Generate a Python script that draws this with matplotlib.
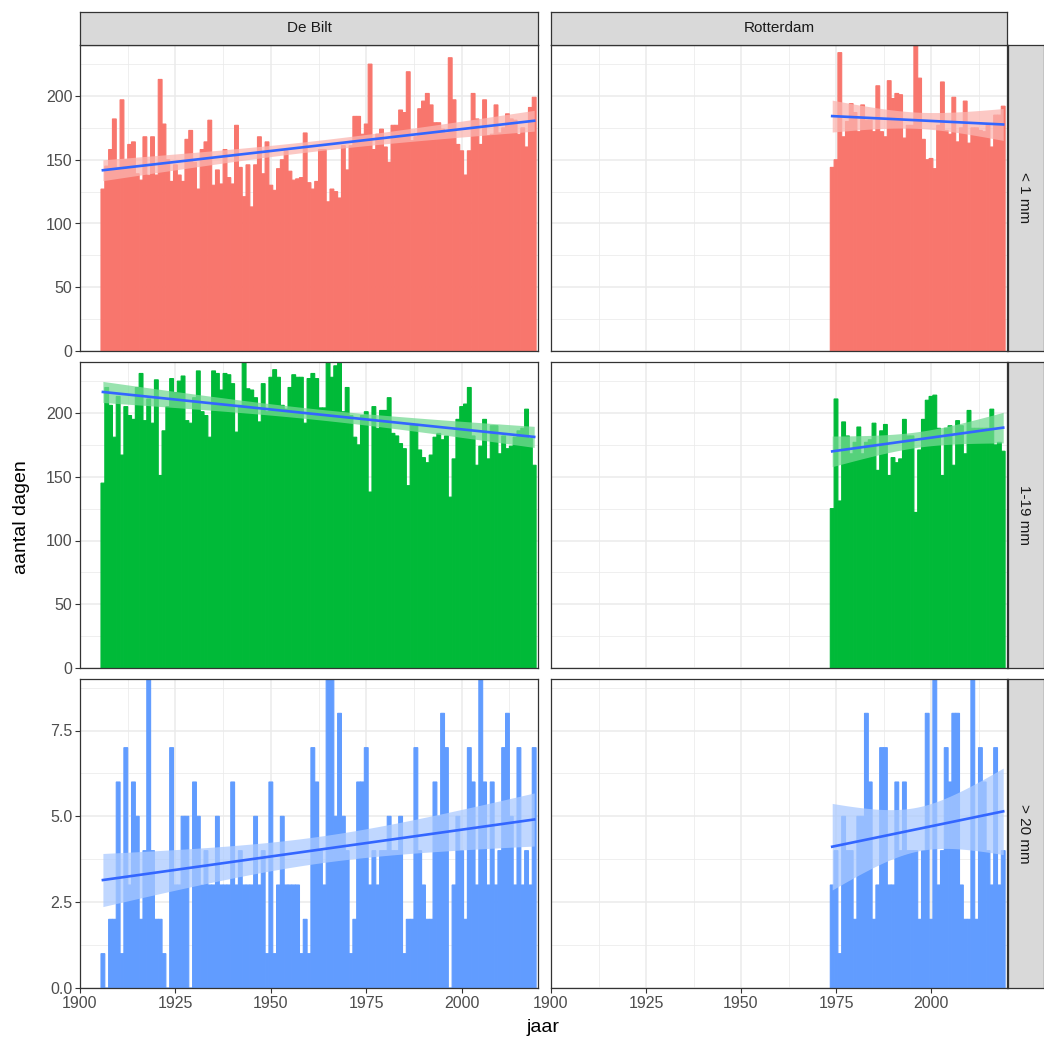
import numpy as np
import matplotlib.pyplot as plt
from matplotlib.ticker import MultipleLocator

plt.rcParams['font.family'] = ['Liberation Sans', 'DejaVu Sans']

# data: aantal dagen per jaar, per neerslagklasse
jaren_bilt = np.arange(1906, 2020)
jaren_rdam = np.arange(1974, 2020)

stations = ['De Bilt', 'Rotterdam']
klassen = ['< 1 mm', '1-19 mm', '> 20 mm']

bilt_lt1 = [127, 145, 158, 182, 144, 197, 150, 162, 164, 139,
            134, 168, 138, 168, 138, 213, 178, 150, 133, 146,
            138, 133, 166, 173, 148, 127, 158, 164, 181, 130,
            142, 131, 158, 136, 131, 177, 144, 121, 146, 113,
            146, 168, 139, 164, 130, 126, 143, 150, 157, 141,
            134, 135, 136, 171, 132, 127, 133, 158, 158, 117,
            127, 125, 120, 161, 142, 161, 184, 184, 170, 178,
            225, 158, 170, 174, 160, 148, 177, 177, 189, 187,
            219, 165, 168, 190, 196, 202, 193, 179, 179, 174,
            171, 230, 197, 162, 157, 138, 157, 202, 182, 162,
            197, 169, 170, 193, 171, 175, 186, 182, 181, 170,
            175, 160, 191, 199]
bilt_1_19 = [145, 220, 206, 181, 213, 167, 205, 198, 195, 220,
             231, 194, 211, 192, 226, 151, 186, 205, 227, 216,
             225, 229, 194, 192, 212, 233, 201, 198, 181, 233,
             231, 218, 231, 230, 223, 185, 206, 240, 219, 218,
             212, 193, 223, 201, 228, 234, 228, 206, 203, 220,
             230, 228, 228, 192, 227, 231, 227, 204, 204, 239,
             228, 237, 239, 201, 220, 198, 181, 175, 198, 201,
             138, 205, 188, 202, 202, 212, 184, 182, 176, 172,
             143, 191, 191, 171, 165, 161, 167, 181, 184, 179,
             182, 134, 164, 195, 205, 207, 220, 182, 159, 174,
             195, 164, 190, 190, 168, 182, 172, 174, 181, 186,
             188, 203, 180, 159]
bilt_gt20 = [1, 0, 2, 2, 6, 1, 7, 3, 6, 5,
             2, 4, 9, 4, 2, 2, 1, 0, 7, 3,
             3, 5, 5, 0, 6, 5, 3, 4, 3, 3,
             5, 3, 3, 3, 6, 3, 4, 3, 3, 3,
             5, 3, 4, 1, 6, 1, 3, 5, 3, 3,
             3, 3, 1, 2, 1, 7, 6, 4, 3, 9,
             9, 5, 8, 5, 4, 1, 2, 6, 6, 7,
             3, 4, 3, 4, 4, 5, 4, 4, 5, 1,
             2, 2, 7, 4, 3, 2, 2, 6, 5, 8,
             7, 0, 3, 5, 4, 2, 7, 6, 3, 9,
             6, 3, 6, 3, 4, 7, 8, 5, 3, 7,
             3, 4, 3, 7]

rdam_lt1 = [144, 150, 234, 168, 180, 194, 187, 172, 193, 181,
            181, 172, 208, 172, 168, 212, 198, 202, 201, 167,
            177, 177, 240, 214, 166, 150, 151, 143, 177, 211,
            173, 170, 199, 164, 175, 196, 163, 175, 175, 173,
            172, 177, 160, 185, 185, 192]
rdam_1_19 = [125, 211, 131, 193, 182, 168, 177, 189, 168, 177,
             179, 192, 155, 186, 191, 151, 165, 161, 164, 195,
             182, 182, 122, 171, 195, 210, 213, 214, 188, 151,
             188, 190, 159, 194, 190, 168, 202, 188, 188, 188,
             188, 188, 203, 175, 177, 170]
rdam_gt20 = [3, 4, 1, 5, 4, 4, 2, 5, 5, 8,
             6, 2, 3, 7, 7, 3, 3, 6, 4, 6,
             4, 4, 4, 2, 4, 8, 2, 9, 3, 4,
             7, 6, 8, 8, 3, 2, 2, 9, 2, 7,
             6, 4, 3, 7, 3, 4]

data = {
    ('De Bilt', '< 1 mm'): (jaren_bilt, bilt_lt1),
    ('De Bilt', '1-19 mm'): (jaren_bilt, bilt_1_19),
    ('De Bilt', '> 20 mm'): (jaren_bilt, bilt_gt20),
    ('Rotterdam', '< 1 mm'): (jaren_rdam, rdam_lt1),
    ('Rotterdam', '1-19 mm'): (jaren_rdam, rdam_1_19),
    ('Rotterdam', '> 20 mm'): (jaren_rdam, rdam_gt20),
}

kleuren = {'< 1 mm': '#F8766D', '1-19 mm': '#00BA38', '> 20 mm': '#619CFF'}
y_major = {'< 1 mm': 50, '1-19 mm': 50, '> 20 mm': 2.5}


def t975(df):
    # benadering van de t-quantiel (Cornish-Fisher)
    z = 1.959964
    return z + (z**3 + z) / (4 * df) + (5 * z**5 + 16 * z**3 + 3 * z) / (96 * df**2)


def lm_band(x, y):
    x = np.asarray(x, float)
    y = np.asarray(y, float)
    n = len(x)
    b, a = np.polyfit(x, y, 1)
    s = np.sqrt(np.sum((y - (a + b * x))**2) / (n - 2))
    xs = np.linspace(x.min(), x.max(), 80)
    fit = a + b * xs
    se = s * np.sqrt(1 / n + (xs - x.mean())**2 / np.sum((x - x.mean())**2))
    t = t975(n - 2)
    return xs, fit, fit - t * se, fit + t * se


def licht(kleur, f=0.54):
    c = np.array(plt.matplotlib.colors.to_rgb(kleur))
    return tuple(f * c + (1 - f) * np.ones(3))


W, H = 1044, 1045
fig = plt.figure(figsize=(W / 100, H / 100), dpi=100)


def px_axes(x0, y0, x1, y1):
    return fig.add_axes([x0 / W, 1 - y1 / H, (x1 - x0) / W, (y1 - y0) / H])


cols = [(80, 538), (551, 1007)]
rows = [(45, 351), (362, 668), (679, 988)]

for i, klasse in enumerate(klassen):
    ymax = max(max(data[(s, klasse)][1]) for s in stations)
    for j, station in enumerate(stations):
        x0, x1 = cols[j]
        y0, y1 = rows[i]
        ax = px_axes(x0, y0, x1, y1)
        jaren, waarden = data[(station, klasse)]
        ax.bar(jaren, waarden, width=1.0, color=kleuren[klasse],
               edgecolor=kleuren[klasse], linewidth=0.8, snap=False, zorder=2)
        xs, fit, lo, hi = lm_band(jaren, waarden)
        ax.fill_between(xs, lo, hi, color=licht(kleuren[klasse]), alpha=0.74,
                        linewidth=0, zorder=3)
        ax.plot(xs, fit, color='#3366FF', lw=1.9, zorder=4)

        ax.set_xlim(1900, 2020)
        ax.set_ylim(0, ymax)
        ax.xaxis.set_major_locator(MultipleLocator(25))
        ax.xaxis.set_minor_locator(MultipleLocator(12.5))
        ax.yaxis.set_major_locator(MultipleLocator(y_major[klasse]))
        ax.yaxis.set_minor_locator(MultipleLocator(y_major[klasse] / 2))
        ax.grid(which='major', color='#EBEBEB', lw=1.1, zorder=0)
        ax.grid(which='minor', color='#EBEBEB', lw=0.55, zorder=0)
        ax.set_axisbelow(True)
        for sp in ax.spines.values():
            sp.set_color('#333333')
            sp.set_linewidth(0.9)
            sp.set_zorder(5)
        ax.tick_params(which='minor', length=0)
        ax.tick_params(which='major', length=3.5, width=0.8, color='#333333',
                       labelcolor='#4D4D4D', labelsize=11.5, pad=2)
        if j != 0:
            ax.tick_params(axis='y', which='major', length=0, labelleft=False)
        if i != 2:
            ax.tick_params(axis='x', which='major', length=0, labelbottom=False)
        if klasse == '> 20 mm':
            ax.yaxis.set_major_formatter(lambda v, p: f'{v:.1f}')

        # strips
        if i == 0:
            st = px_axes(x0, 12, x1, y0)
            st.set_facecolor('#D9D9D9')
            st.set_xticks([])
            st.set_yticks([])
            for sp in st.spines.values():
                sp.set_color('#333333')
                sp.set_linewidth(0.9)
            st.text(0.5, 0.5, station, ha='center', va='center', fontsize=11,
                    color='#1A1A1A', transform=st.transAxes)
        if j == 1:
            st = px_axes(x1 + 1, y0, 1044, y1)
            st.set_facecolor('#D9D9D9')
            st.set_xticks([])
            st.set_yticks([])
            for sp in st.spines.values():
                sp.set_color('#333333')
                sp.set_linewidth(0.9)
            st.text(0.45, 0.5, klasse, ha='center', va='center', fontsize=11,
                    rotation=-90, color='#1A1A1A', transform=st.transAxes)

fig.text(22 / W, 1 - 517 / H, 'aantal dagen', rotation=90, ha='center', va='center',
         fontsize=14)
fig.text(543 / W, 1 - 1027 / H, 'jaar', ha='center', va='center', fontsize=14)

fig.savefig('out.png', dpi=100)
